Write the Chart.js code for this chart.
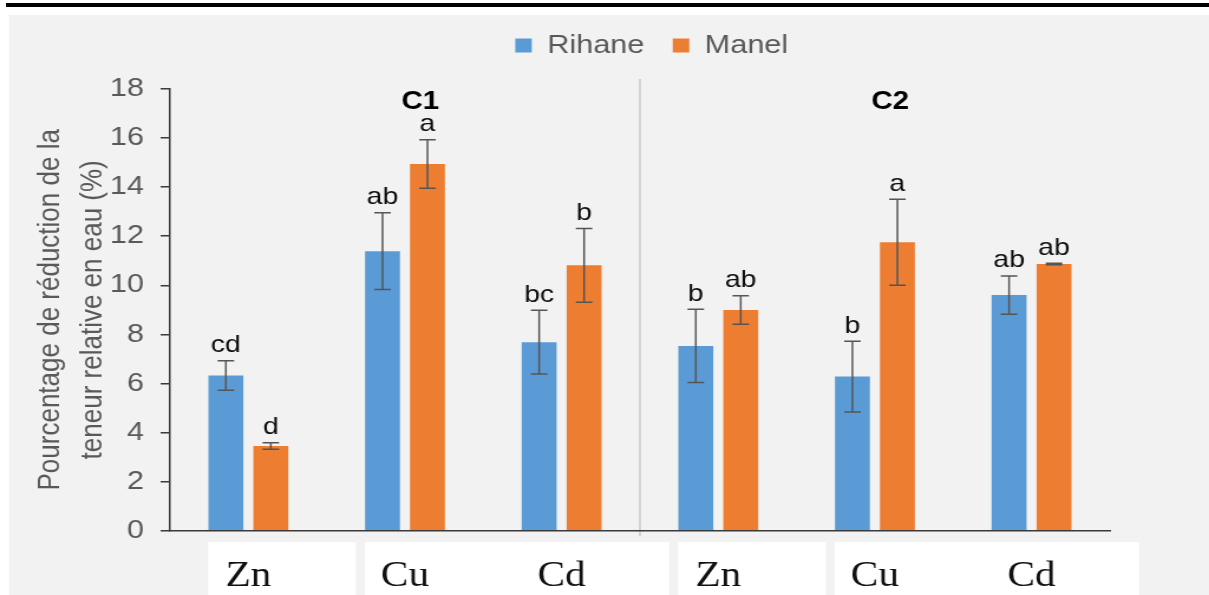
<!DOCTYPE html>
<html lang="fr">
<head>
    <meta charset="UTF-8">
    <title>Réduction de la teneur relative en eau</title>
    <script src="https://cdn.jsdelivr.net/npm/chart.js"></script>
    <style type="text/css">
        body{
            margin: 0;
            background: #fff;
            width: 1209px;
            height: 595px;
            overflow: hidden;
            position: relative;
        }
        .trait{ /* filet noir en haut */
            position: absolute; left: 6px; right: 0; top: 3px; height: 4px; background: #000;
        }
        .fond{
            position: absolute; left: 9px; right: 0; top: 15px; bottom: 0; background: #f2f2f2;
        }
        .cadre{ /* la figure d'origine est étirée en largeur */
            position: absolute; left: 0; top: 0; width: 1024px; height: 595px;
            transform: scaleX(1.1807); transform-origin: 0 0;
        }
    </style>
</head>
<body>
    <div class="trait"></div>
    <div class="fond"></div>
    <div class="cadre">
        <canvas id="graphique" width="1024" height="595"></canvas>
    </div>
    <script>
        const categories = ['Zn', 'Cu', 'Cd', 'Zn', 'Cu', 'Cd'];
        const rihane = [6.32, 11.39, 7.68, 7.53, 6.28, 9.6];
        const rihaneErr = [0.6, 1.56, 1.3, 1.49, 1.44, 0.78];
        const rihaneLettres = ['cd', 'ab', 'bc', 'b', 'b', 'ab'];
        const manel = [3.45, 14.94, 10.81, 8.99, 11.75, 10.87];
        const manelErr = [0.13, 0.99, 1.5, 0.58, 1.75, 0.03];
        const manelLettres = ['d', 'a', 'b', 'ab', 'a', 'ab'];
        const groupes = ['C1', 'C2'];
        const groupesPos = [1, 4]; // catégorie au-dessus de laquelle est écrit le groupe
        const yTicks = [0, 2, 4, 6, 8, 10, 12, 14, 16, 18];

        const police = '"Liberation Sans", Arial, sans-serif';
        Chart.defaults.font.family = police;

        // cadres blancs derrière les noms des métaux
        const cadresLabels = [[0, 0], [1, 2], [3, 3], [4, 5]];

        const decor = {
            id: 'decor',
            afterLayout(chart) {
                // légende un peu décalée vers la droite comme sur l'original
                chart.legend.left += 10;
                chart.legend.right += 10;
            },
            beforeDraw(chart) {
                const ctx = chart.ctx, x = chart.scales.x;
                ctx.save();
                ctx.fillStyle = '#fff';
                cadresLabels.forEach(c => {
                    const g = x.getPixelForValue(c[0]) - 34;
                    const d = x.getPixelForValue(c[1]) + 91;
                    ctx.fillRect(g, 542, d - g, 595 - 542);
                });
                // séparation C1 / C2
                const xs = (x.getPixelForValue(2) + x.getPixelForValue(3)) / 2;
                ctx.strokeStyle = '#c8c8c8';
                ctx.lineWidth = 1.5;
                ctx.beginPath();
                ctx.moveTo(xs, 79);
                ctx.lineTo(xs, 536);
                ctx.stroke();
                ctx.restore();
            },
            afterDatasetsDraw(chart) {
                const ctx = chart.ctx, y = chart.scales.y, x = chart.scales.x;
                ctx.save();
                chart.data.datasets.forEach((ds, i) => {
                    const meta = chart.getDatasetMeta(i);
                    meta.data.forEach((bar, j) => {
                        const v = ds.data[j], e = ds.erreurs[j];
                        const yHaut = y.getPixelForValue(v + e);
                        const yBas = y.getPixelForValue(v - e);
                        ctx.strokeStyle = '#555';
                        ctx.lineWidth = 1.5;
                        ctx.beginPath();
                        ctx.moveTo(bar.x, yHaut); ctx.lineTo(bar.x, yBas);
                        ctx.moveTo(bar.x - 7, yHaut); ctx.lineTo(bar.x + 7, yHaut);
                        ctx.moveTo(bar.x - 7, yBas); ctx.lineTo(bar.x + 7, yBas);
                        ctx.stroke();
                        ctx.fillStyle = '#0d0d0d';
                        ctx.font = '24px ' + police;
                        ctx.textAlign = 'center';
                        ctx.textBaseline = 'alphabetic';
                        ctx.fillText(ds.lettres[j], bar.x, yHaut - 8.5);
                    });
                });
                ctx.font = 'bold 25px ' + police;
                ctx.fillStyle = '#000';
                groupes.forEach((g, k) => {
                    ctx.fillText(g, x.getPixelForValue(groupesPos[k]) + 13, 109);
                });
                ctx.restore();
            }
        };

        const data = {
            labels: categories,
            datasets: [{
                label: 'Rihane',
                data: rihane,
                erreurs: rihaneErr,
                lettres: rihaneLettres,
                backgroundColor: '#5b9bd5',
                barPercentage: 0.777,
                categoryPercentage: 0.574
            },
            {
                label: 'Manel',
                data: manel,
                erreurs: manelErr,
                lettres: manelLettres,
                backgroundColor: '#ed7d31',
                barPercentage: 0.777,
                categoryPercentage: 0.574
            }]
        };

        const config = {
            type: 'bar',
            data: data,
            plugins: [decor],
            options: {
                responsive: false,
                animation: false,
                devicePixelRatio: 1,
                layout: {
                    padding: { top: 8.5, left: 0, right: 84, bottom: 0 }
                },
                plugins: {
                    tooltip: { enabled: false },
                    legend: {
                        position: 'top',
                        fullSize: false,
                        labels: {
                            boxWidth: 14,
                            boxHeight: 14,
                            padding: 24,
                            color: '#595959',
                            font: { size: 26 }
                        }
                    },
                    title: { // espace vide entre la légende et le graphique
                        display: true,
                        text: '',
                        weight: 500,
                        fullSize: false,
                        padding: 0,
                        font: { size: 17, lineHeight: 1.2 }
                    }
                },
                scales: {
                    x: {
                        grid: { display: false, drawTicks: false },
                        border: { display: true, color: '#3a3a3a', width: 1.5 },
                        ticks: {
                            color: '#111',
                            padding: 24.7,
                            font: { family: '"Liberation Serif", "Times New Roman", serif', size: 35, lineHeight: 1.2 }
                        },
                        afterFit: (s) => { s.height = 64.3; }
                    },
                    y: {
                        min: 0,
                        max: 18,
                        afterBuildTicks: (s) => { s.ticks = yTicks.map(v => ({ value: v })); },
                        grid: { drawOnChartArea: false, drawTicks: true, tickLength: 8, tickColor: '#3a3a3a', lineWidth: 1.5 },
                        border: { display: true, color: '#3a3a3a', width: 1.5 },
                        ticks: {
                            color: '#595959',
                            padding: 14,
                            font: { size: 26 }
                        },
                        title: {
                            display: true,
                            text: ['Pourcentage de réduction de la', 'teneur relative en eau (%)'],
                            color: '#595959',
                            font: { size: 26, lineHeight: 1.385 },
                            padding: { top: 25, bottom: 0 }
                        },
                        afterFit: (s) => { s.width = 144; }
                    }
                }
            }
        };

        const graphique = new Chart(document.getElementById('graphique'), config);
    </script>
</body>
</html>
